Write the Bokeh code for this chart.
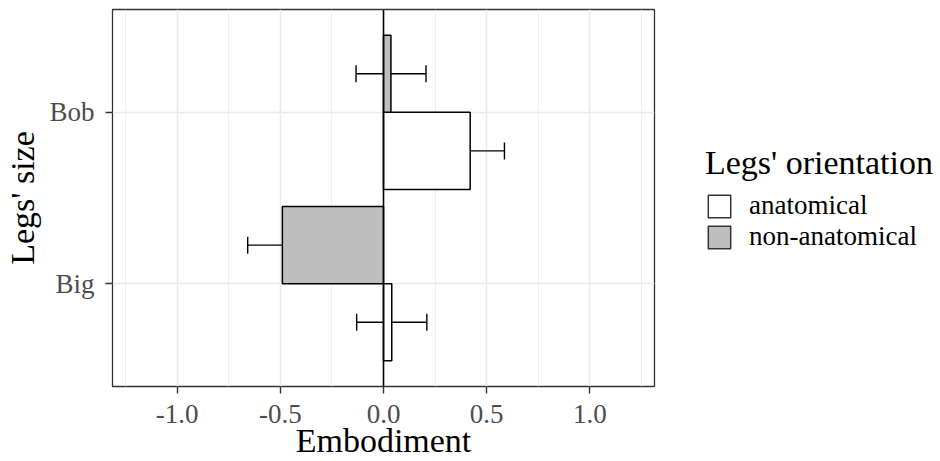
from bokeh.plotting import figure
from bokeh.layouts import row
from bokeh.models import (FactorRange, Range1d, Whisker, ColumnDataSource, Legend,
                          LegendItem, FixedTicker, Span, TeeHead, NumeralTickFormatter)
from bokeh.transform import dodge
from bokeh.embed import file_html
from bokeh.resources import INLINE

# ---- data ----
sizes = ["Big", "Bob"]
orientations = ["anatomical", "non-anatomical"]
anatomical_mean = [0.04, 0.42]
anatomical_lower = [-0.13, 0.25]
anatomical_upper = [0.21, 0.586]
nonanat_mean = [-0.49, 0.036]
nonanat_lower = [-0.658, -0.133]
nonanat_upper = [-0.323, 0.206]
x_ticks = [-1.0, -0.5, 0.0, 0.5, 1.0]
x_minor = [-1.25, -0.75, -0.25, 0.25, 0.75, 1.25]
fill_colors = ["white", "#BEBEBE"]

FONT = "Liberation Serif"
LW = 1.5

p = figure(width=656, height=461,
           y_range=FactorRange(factors=sizes, range_padding=0.1, range_padding_units="absolute"),
           x_range=Range1d(-1.313, 1.313),
           output_backend="svg", toolbar_location=None,
           min_border_left=112, min_border_right=2, min_border_top=9, min_border_bottom=74)

p.background_fill_color = "white"
p.border_fill_color = "white"
p.outline_line_color = "#333333"
p.outline_line_width = 1.3

# grids
p.xgrid.grid_line_color = "#EBEBEB"
p.xgrid.grid_line_width = 1.6
p.xgrid.minor_grid_line_color = "#EBEBEB"
p.xgrid.minor_grid_line_width = 0.8
p.ygrid.grid_line_color = "#EBEBEB"
p.ygrid.grid_line_width = 1.6

# axes
p.xaxis.ticker = FixedTicker(ticks=x_ticks, minor_ticks=x_minor)
p.xaxis.formatter = NumeralTickFormatter(format="0.0")
for ax in (p.xaxis[0], p.yaxis[0]):
    ax.axis_line_color = None
    ax.major_tick_line_color = "#333333"
    ax.major_tick_line_width = 1.4
    ax.major_tick_out = 7
    ax.major_tick_in = 0
    ax.minor_tick_line_color = None
    ax.major_label_text_font = FONT
    ax.major_label_text_font_size = "27px"
    ax.major_label_text_color = "#4D4D4D"
    ax.axis_label_text_font = FONT
    ax.axis_label_text_font_size = "34px"
    ax.axis_label_text_font_style = "normal"
    ax.axis_label_text_color = "black"
p.xaxis.axis_label = "Embodiment"
p.yaxis.axis_label = "Legs' size"
p.xaxis.major_label_standoff = 11
p.yaxis.major_label_standoff = 11
p.xaxis.axis_label_standoff = -4
p.yaxis.axis_label_standoff = 5

src_a = ColumnDataSource(dict(size=sizes, mean=anatomical_mean,
                              lower=anatomical_lower, upper=anatomical_upper))
src_n = ColumnDataSource(dict(size=sizes, mean=nonanat_mean,
                              lower=nonanat_lower, upper=nonanat_upper))

r_a = p.hbar(y=dodge("size", -0.225, range=p.y_range), left=0, right="mean", height=0.45,
             source=src_a, fill_color=fill_colors[0], line_color="black", line_width=LW)
r_n = p.hbar(y=dodge("size", 0.225, range=p.y_range), left=0, right="mean", height=0.45,
             source=src_n, fill_color=fill_colors[1], line_color="black", line_width=LW)

p.add_layout(Span(location=0, dimension="height", line_color="black", line_width=1.6))

for src, off in ((src_a, -0.225), (src_n, 0.225)):
    w = Whisker(base=dodge("size", off, range=p.y_range), lower="lower", upper="upper",
                dimension="width", source=src, line_color="black", line_width=1.4,
                upper_head=TeeHead(size=17, line_color="black", line_width=1.4),
                lower_head=TeeHead(size=17, line_color="black", line_width=1.4))
    p.add_layout(w)

# ---- legend panel on the right ----
q = figure(width=284, height=461, x_range=Range1d(0, 1), y_range=Range1d(0, 1),
           x_axis_type=None, y_axis_type=None, output_backend="svg", toolbar_location=None,
           min_border=0)
q.outline_line_color = None
q.background_fill_color = "white"
q.border_fill_color = "white"
q.grid.visible = False
items = []
for lab, col in zip(orientations, fill_colors):
    # zero-size key renderer: only its legend swatch is visible
    rr = q.hbar(y=[0.5], left=[0.5], right=[0.5], height=0, fill_color=col,
                line_color="#333333", line_width=LW)
    items.append(LegendItem(label=lab, renderers=[rr]))

legend = Legend(items=items, location=(49, 134), title="Legs' orientation",
                border_line_color=None, background_fill_alpha=0,
                padding=0, margin=0, spacing=0,
                glyph_width=28, glyph_height=28, label_standoff=16,
                label_text_font=FONT, label_text_font_size="27px", label_text_color="black",
                label_height=28,
                title_text_font=FONT, title_text_font_size="34px",
                title_text_font_style="normal", title_text_color="black", title_standoff=8)
q.add_layout(legend)

layout = row(p, q)
open("out.html", "w").write(file_html(layout, INLINE))
